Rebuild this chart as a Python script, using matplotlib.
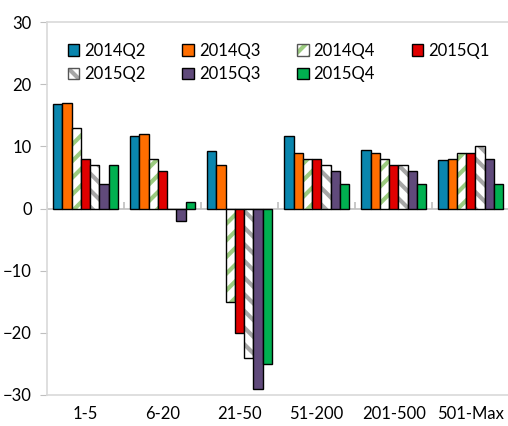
import numpy as np
import matplotlib.pyplot as plt

plt.rcParams['font.family'] = ['Lato', 'DejaVu Sans']
plt.rcParams['hatch.linewidth'] = 3.0

categories = ['1-5', '6-20', '21-50', '51-200', '201-500', '501-Max']
quarters = ['2014Q2', '2014Q3', '2014Q4', '2015Q1', '2015Q2', '2015Q3', '2015Q4']
v_2014Q2 = [16.8, 11.6, 9.2, 11.6, 9.5, 7.8]
v_2014Q3 = [17, 12, 7, 9, 9, 8]
v_2014Q4 = [13, 8, -15, 8, 8, 9]
v_2015Q1 = [8, 6, -20, 8, 7, 9]
v_2015Q2 = [7, 0, -24, 7, 7, 10]
v_2015Q3 = [4, -2, -29, 6, 6, 8]
v_2015Q4 = [7, 1, -25, 4, 4, 4]
series = [v_2014Q2, v_2014Q3, v_2014Q4, v_2015Q1, v_2015Q2, v_2015Q3, v_2015Q4]

# face, hatch colour, hatch pattern
styles = [
    ('#0A86AE', None, None),
    ('#FF6E00', None, None),
    ('white', '#9BCB7F', '//'),
    ('#E00000', None, None),
    ('white', '#A6A6A6', '\\\\'),
    ('#604A7B', None, None),
    ('#00B050', None, None),
]

fig = plt.figure(figsize=(5.08, 4.26), dpi=100)
ax = fig.add_axes([0.0925, 0.073, 0.91, 0.875])

x = np.arange(len(categories))
w = 0.12
handles = []
for i, (vals, (fc, hc, hp)) in enumerate(zip(series, styles)):
    pos = x + (i - 3) * w
    if hp:
        ax.bar(pos, vals, w, color=fc, edgecolor=hc, hatch=hp, linewidth=0)
        ax.bar(pos, vals, w, facecolor='none', edgecolor='black', linewidth=1)
        h = (plt.Rectangle((0, 0), 1, 1, facecolor=fc, edgecolor=hc, hatch=hp, linewidth=0),
             plt.Rectangle((0, 0), 1, 1, facecolor='none', edgecolor='#555555', linewidth=1))
    else:
        ax.bar(pos, vals, w, color=fc, edgecolor='black', linewidth=1)
        h = plt.Rectangle((0, 0), 1, 1, facecolor=fc, edgecolor='black', linewidth=1)
    handles.append(h)

ax.axhline(0, color='#BFBFBF', lw=1.2, zorder=0)
ax.vlines(np.arange(len(categories) + 1) - 0.5, 0, 1, color='#BFBFBF', lw=1.2)

ax.set_xlim(-0.5, len(categories) - 0.5)
ax.set_ylim(-30, 30)
ax.set_yticks(range(-30, 31, 10))
ax.set_xticks(x, categories)
ax.tick_params(axis='x', length=0, pad=8, labelsize=12)
ax.tick_params(axis='y', length=5, color='#BFBFBF', labelsize=12, pad=6)
for s in ax.spines.values():
    s.set_color('#D9D9D9')
    s.set_linewidth(1.2)

# row-major legend order for a 2 x 4 layout
order = [0, 4, 1, 5, 2, 6, 3]
ax.legend([handles[k] for k in order], [quarters[k] for k in order], ncol=4,
          loc='upper left', bbox_to_anchor=(0.012, 0.985),
          frameon=False, fontsize=12, handlelength=0.7, handleheight=0.7,
          handletextpad=0.3, columnspacing=2.2, labelspacing=0.45)

# title sits mostly above the visible area, as in the cropped original
fig.text(0.15, 1.0 + 2.5 / 426, 'Employment growth', color='#0A86AE', fontsize=14,
         fontweight='bold', va='baseline')

fig.savefig('out.png', dpi=100)
